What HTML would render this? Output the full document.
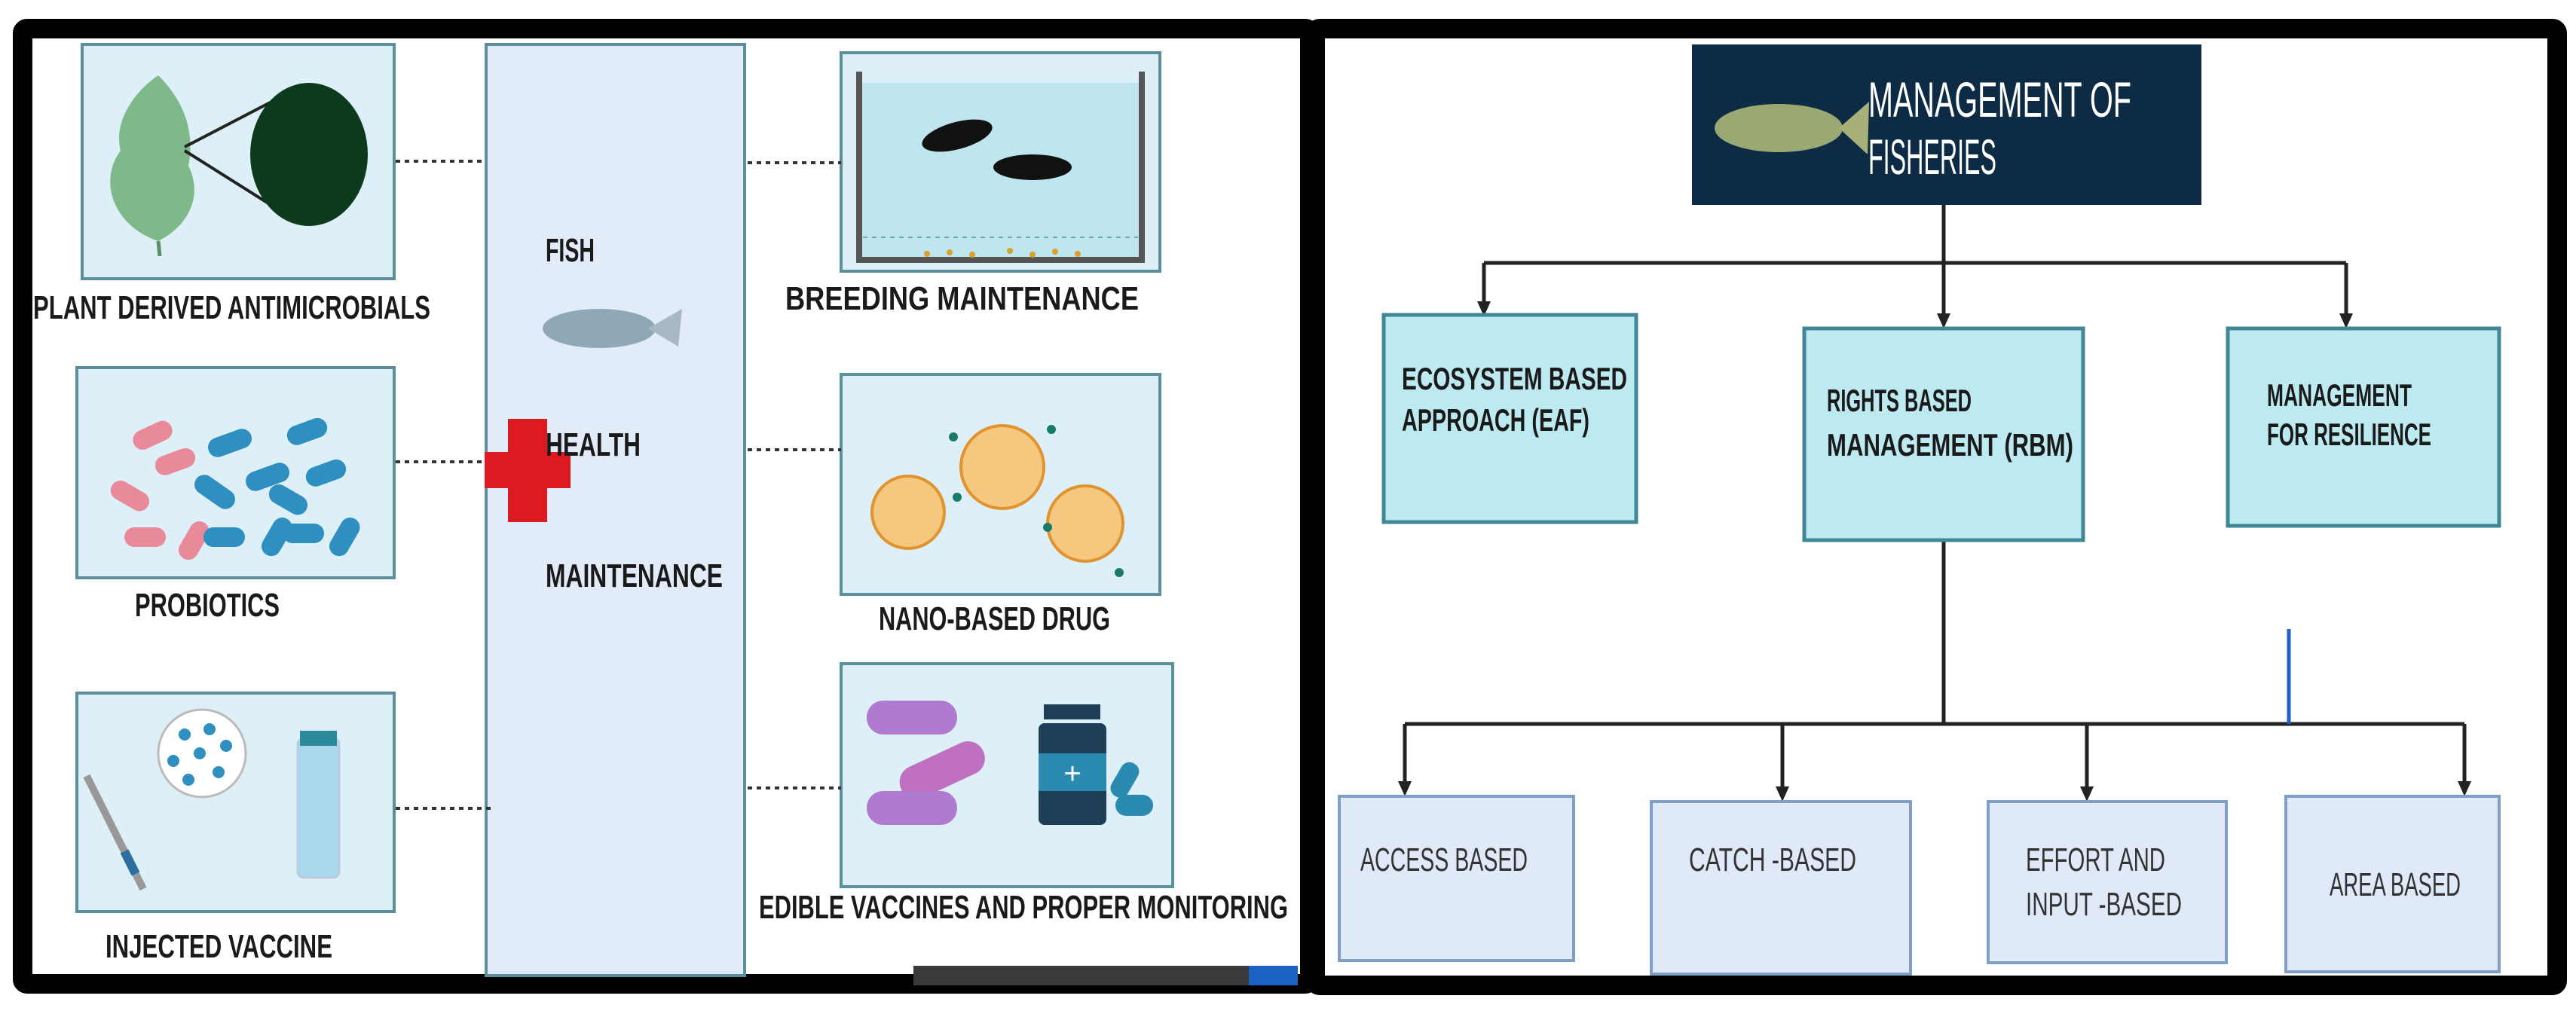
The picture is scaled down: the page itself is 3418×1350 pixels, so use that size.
<!DOCTYPE html>
<html><head><meta charset="utf-8"><style>html,body{margin:0;padding:0;background:#fff}svg{display:block}</style></head>
<body>
<svg width="3418" height="1350" viewBox="0 0 3418 1350" xmlns="http://www.w3.org/2000/svg" font-family="Liberation Sans, sans-serif">
<rect width="3418" height="1350" fill="#fff"/>
<rect x="30" y="38" width="1708" height="1268" fill="#fff" stroke="#000" stroke-width="26" rx="6"/>
<rect x="1745" y="38" width="1648" height="1270" fill="#fff" stroke="#000" stroke-width="26" rx="6"/>

<g stroke="#5b8f9c" stroke-width="4" fill="#ddeff7">
<rect x="109" y="59" width="414" height="311"/>
<rect x="102" y="488" width="421" height="279"/>
<rect x="102" y="920" width="421" height="290"/>
<rect x="1116" y="70" width="423" height="290"/>
<rect x="1116" y="497" width="423" height="292"/>
<rect x="1116" y="881" width="440" height="296"/>
</g>
<rect x="645" y="59" width="343" height="1236" fill="#e2ecf8" stroke="#5b8f9c" stroke-width="4"/>
<g stroke="#333" stroke-width="4" stroke-dasharray="6,6">
<line x1="525" y1="214" x2="645" y2="214"/>
<line x1="525" y1="613" x2="645" y2="613"/>
<line x1="525" y1="1073" x2="655" y2="1073"/>
<line x1="992" y1="216" x2="1116" y2="216"/>
<line x1="992" y1="597" x2="1116" y2="597"/>
<line x1="992" y1="1046" x2="1116" y2="1046"/>
</g>
<path d="M210 320 C150 300 130 240 160 200 C150 160 180 120 210 100 C240 130 260 170 250 220 C270 260 250 300 210 320 Z" fill="#7fb98a"/>
<line x1="210" y1="320" x2="212" y2="340" stroke="#5a8f63" stroke-width="5"/>
<line x1="245" y1="195" x2="370" y2="130" stroke="#222" stroke-width="4"/>
<line x1="245" y1="200" x2="380" y2="285" stroke="#222" stroke-width="4"/>
<ellipse cx="410" cy="205" rx="78" ry="95" fill="#0c3a1c"/>
<g stroke-width="0">
<rect x="175" y="565" width="55" height="26" rx="13" fill="#e88a9a" transform="rotate(-25 202 578)"/>
<rect x="145" y="645" width="55" height="26" rx="13" fill="#e88a9a" transform="rotate(30 172 658)"/>
<rect x="205" y="600" width="55" height="26" rx="13" fill="#e88a9a" transform="rotate(-20 232 613)"/>
<rect x="165" y="700" width="55" height="26" rx="13" fill="#e88a9a"/>
<rect x="230" y="705" width="55" height="26" rx="13" fill="#e88a9a" transform="rotate(-60 257 718)"/>
<rect x="275" y="575" width="60" height="26" rx="13" fill="#2f8fc0" transform="rotate(-20 305 588)"/>
<rect x="380" y="560" width="55" height="26" rx="13" fill="#2f8fc0" transform="rotate(-20 407 573)"/>
<rect x="325" y="620" width="60" height="26" rx="13" fill="#2f8fc0" transform="rotate(-20 355 633)"/>
<rect x="405" y="615" width="55" height="26" rx="13" fill="#2f8fc0" transform="rotate(-20 432 628)"/>
<rect x="255" y="640" width="60" height="26" rx="13" fill="#2f8fc0" transform="rotate(35 285 653)"/>
<rect x="355" y="650" width="55" height="26" rx="13" fill="#2f8fc0" transform="rotate(30 382 663)"/>
<rect x="270" y="700" width="55" height="26" rx="13" fill="#2f8fc0"/>
<rect x="340" y="700" width="55" height="26" rx="13" fill="#2f8fc0" transform="rotate(-60 367 713)"/>
<rect x="375" y="695" width="55" height="26" rx="13" fill="#2f8fc0"/>
<rect x="430" y="700" width="55" height="26" rx="13" fill="#2f8fc0" transform="rotate(-60 457 713)"/>
</g>
<circle cx="268" cy="1000" r="58" fill="#fff" stroke="#bbb" stroke-width="3"/>
<g fill="#2f8fc0"><circle cx="245" cy="975" r="8"/><circle cx="278" cy="968" r="8"/><circle cx="300" cy="990" r="8"/><circle cx="265" cy="1000" r="8"/><circle cx="230" cy="1010" r="8"/><circle cx="290" cy="1025" r="8"/><circle cx="250" cy="1035" r="8"/></g>
<line x1="115" y1="1030" x2="190" y2="1180" stroke="#999" stroke-width="10"/>
<line x1="165" y1="1130" x2="180" y2="1160" stroke="#2f6fa0" stroke-width="12"/>
<rect x="395" y="980" width="55" height="185" rx="8" fill="#a9d8ec" stroke="#bcd" stroke-width="3"/>
<rect x="398" y="970" width="49" height="20" fill="#2a8a9a"/>
<ellipse cx="795" cy="436" rx="75" ry="26" fill="#8fa8b8"/>
<path d="M860 436 L905 410 L900 460 Z" fill="#a8b8c4"/>
<rect x="674" y="556" width="52" height="137" fill="#dd1a22"/>
<rect x="643" y="600" width="114" height="48" fill="#dd1a22"/>
<rect x="1140" y="110" width="375" height="235" fill="#bfe6ee"/>
<path d="M1140 95 V345 H1515 V95" fill="none" stroke="#555" stroke-width="8"/>
<line x1="1145" y1="315" x2="1510" y2="315" stroke="#6aa" stroke-width="2" stroke-dasharray="6,6"/>
<ellipse cx="1270" cy="180" rx="48" ry="18" fill="#111" transform="rotate(-15 1270 180)"/>
<ellipse cx="1370" cy="222" rx="52" ry="17" fill="#111"/>
<g fill="#d9a030"><circle cx="1230" cy="337" r="4"/><circle cx="1260" cy="335" r="4"/><circle cx="1290" cy="338" r="4"/><circle cx="1340" cy="333" r="4"/><circle cx="1370" cy="338" r="4"/><circle cx="1400" cy="334" r="4"/><circle cx="1430" cy="337" r="4"/></g>
<g fill="#f6c77e" stroke="#e0932e" stroke-width="4">
<circle cx="1205" cy="680" r="48"/><circle cx="1330" cy="620" r="55"/><circle cx="1440" cy="695" r="50"/>
</g>
<g fill="#1a7a6a"><circle cx="1265" cy="580" r="6"/><circle cx="1395" cy="570" r="6"/><circle cx="1270" cy="660" r="6"/><circle cx="1390" cy="700" r="6"/><circle cx="1485" cy="760" r="6"/></g>
<rect x="1150" y="930" width="120" height="45" rx="22" fill="#b07ad0"/>
<rect x="1190" y="1000" width="120" height="45" rx="22" fill="#c070c0" transform="rotate(-25 1250 1022)"/>
<rect x="1150" y="1050" width="120" height="45" rx="22" fill="#b07ad0"/>
<rect x="1385" y="935" width="75" height="20" fill="#1c3f55"/>
<rect x="1378" y="960" width="90" height="135" rx="8" fill="#1c3f55"/>
<rect x="1378" y="1000" width="90" height="50" fill="#2a8ab0"/>
<text x="1423" y="1040" font-size="40" fill="#fff" text-anchor="middle">+</text>
<rect x="1480" y="1055" width="50" height="28" rx="14" fill="#2a8ab0"/>
<rect x="1480" y="1010" width="25" height="50" rx="12" fill="#2a8ab0" transform="rotate(30 1492 1035)"/>
<rect x="1212" y="1282" width="445" height="26" fill="#3a3a3a"/>
<rect x="1657" y="1282" width="65" height="26" fill="#1c62c4"/>
<g font-weight="bold" font-size="44" fill="#1a1a1a">
<text x="44" y="423" textLength="527" lengthAdjust="spacingAndGlyphs">PLANT DERIVED ANTIMICROBIALS</text>
<text x="179" y="818" textLength="192" lengthAdjust="spacingAndGlyphs">PROBIOTICS</text>
<text x="140" y="1271" textLength="301" lengthAdjust="spacingAndGlyphs">INJECTED VACCINE</text>
<text x="724" y="347" textLength="65" lengthAdjust="spacingAndGlyphs">FISH</text>
<text x="724" y="605" textLength="126" lengthAdjust="spacingAndGlyphs">HEALTH</text>
<text x="724" y="779" textLength="235" lengthAdjust="spacingAndGlyphs">MAINTENANCE</text>
<text x="1042" y="411" textLength="469" lengthAdjust="spacingAndGlyphs">BREEDING MAINTENANCE</text>
<text x="1166" y="836" textLength="307" lengthAdjust="spacingAndGlyphs">NANO-BASED DRUG</text>
<text x="1007" y="1219" textLength="702" lengthAdjust="spacingAndGlyphs">EDIBLE VACCINES AND PROPER MONITORING</text>
</g>

<rect x="2245" y="59" width="676" height="213" fill="#0d2b45"/>
<ellipse cx="2360" cy="170" rx="85" ry="32" fill="#9aa872"/>
<path d="M2440 170 L2480 135 L2478 205 Z" fill="#a8b07a"/>
<text x="2479" y="155" font-size="66" fill="#fff" textLength="349" lengthAdjust="spacingAndGlyphs">MANAGEMENT OF</text>
<text x="2479" y="231" font-size="66" fill="#fff" textLength="170" lengthAdjust="spacingAndGlyphs">FISHERIES</text>
<g stroke="#222" stroke-width="5" fill="none">
<line x1="2579" y1="272" x2="2579" y2="420"/>
<line x1="1969" y1="349" x2="3113" y2="349"/>
<line x1="1969" y1="349" x2="1969" y2="405"/>
<line x1="3113" y1="349" x2="3113" y2="420"/>
<line x1="2579" y1="717" x2="2579" y2="961"/>
<line x1="1864" y1="961" x2="3270" y2="961"/>
<line x1="1864" y1="961" x2="1864" y2="1040"/>
<line x1="2365" y1="961" x2="2365" y2="1047"/>
<line x1="2769" y1="961" x2="2769" y2="1047"/>
<line x1="3270" y1="961" x2="3270" y2="1040"/>
</g>
<g fill="#222">
<path d="M1960 400 L1978 400 L1969 420 Z"/>
<path d="M2570 416 L2588 416 L2579 436 Z"/>
<path d="M3104 416 L3122 416 L3113 436 Z"/>
<path d="M1855 1037 L1873 1037 L1864 1057 Z"/>
<path d="M2356 1044 L2374 1044 L2365 1064 Z"/>
<path d="M2760 1044 L2778 1044 L2769 1064 Z"/>
<path d="M3261 1037 L3279 1037 L3270 1057 Z"/>
</g>
<line x1="3037" y1="835" x2="3037" y2="961" stroke="#1c62c4" stroke-width="5"/>
<g fill="#bde9f0" stroke="#3f8796" stroke-width="5">
<rect x="1836" y="418" width="335" height="275"/>
<rect x="2394" y="436" width="370" height="281"/>
<rect x="2956" y="436" width="360" height="262"/>
</g>
<g fill="#dfe9f7" stroke="#7f9fc4" stroke-width="4">
<rect x="1777" y="1057" width="311" height="218"/>
<rect x="2191" y="1064" width="344" height="229"/>
<rect x="2638" y="1064" width="316" height="214"/>
<rect x="3033" y="1057" width="283" height="233"/>
</g>
<g font-weight="bold" font-size="42" fill="#1a1a1a">
<text x="1860" y="517" textLength="299" lengthAdjust="spacingAndGlyphs">ECOSYSTEM BASED</text>
<text x="1860" y="572" textLength="249" lengthAdjust="spacingAndGlyphs">APPROACH (EAF)</text>
<text x="2424" y="546" textLength="192" lengthAdjust="spacingAndGlyphs">RIGHTS BASED</text>
<text x="2424" y="605" textLength="327" lengthAdjust="spacingAndGlyphs">MANAGEMENT (RBM)</text>
<text x="3008" y="539" textLength="192" lengthAdjust="spacingAndGlyphs">MANAGEMENT</text>
<text x="3008" y="591" textLength="218" lengthAdjust="spacingAndGlyphs">FOR RESILIENCE</text>
</g>
<g font-size="44" fill="#333">
<text x="1805" y="1156" textLength="222" lengthAdjust="spacingAndGlyphs">ACCESS BASED</text>
<text x="2241" y="1156" textLength="222" lengthAdjust="spacingAndGlyphs">CATCH -BASED</text>
<text x="2688" y="1156" textLength="185" lengthAdjust="spacingAndGlyphs">EFFORT AND</text>
<text x="2688" y="1215" textLength="207" lengthAdjust="spacingAndGlyphs">INPUT -BASED</text>
<text x="3091" y="1189" textLength="174" lengthAdjust="spacingAndGlyphs">AREA BASED</text>
</g>
</svg>
</body></html>
